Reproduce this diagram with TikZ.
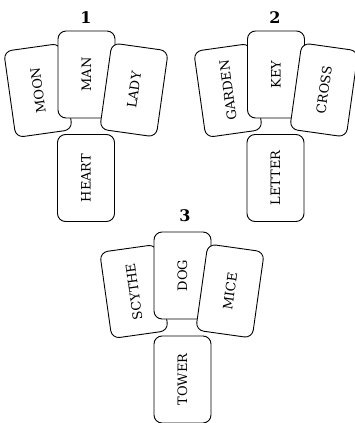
\documentclass[tikz,border=0pt]{standalone}
\usepackage{fontspec}
\setmainfont{DejaVu Serif}
\begin{document}
\begin{tikzpicture}[x=1pt,y=1pt,
  card/.style={draw=black, line width=0.9pt, fill=white, rounded corners=8pt,
    minimum width=87pt, minimum height=57pt, inner sep=0pt,
    font=\fontsize{13}{15}\selectfont},
  grouplabel/.style={font=\fontsize{16}{18}\selectfont\bfseries, inner sep=0pt}]
\useasboundingbox (0,0) rectangle (355,-423);
% group 1
\node[grouplabel] (l1) at (86,-17.5) {1};
\node[card, rotate=98] (moon) at (38,-90.5) {MOON};
\node[card, rotate=90] (man) at (86.5,-74.5) {MAN};
\node[card, rotate=82] (lady) at (134,-90) {LADY};
\node[card, rotate=90] (heart) at (86,-178) {HEART};
% group 2
\node[grouplabel] (l2) at (275,-17.5) {2};
\node[card, rotate=98] (garden) at (228,-90.5) {GARDEN};
\node[card, rotate=90] (key) at (276,-74.5) {KEY};
\node[card, rotate=82] (cross) at (324,-90) {CROSS};
\node[card, rotate=90] (letter) at (275.5,-178) {LETTER};
% group 3
\node[grouplabel] (l3) at (185,-216) {3};
\node[card, rotate=98] (scythe) at (134,-291.5) {SCYTHE};
\node[card, rotate=90] (dog) at (182.5,-275.5) {DOG};
\node[card, rotate=82] (mice) at (230,-291) {MICE};
\node[card, rotate=90] (tower) at (182.5,-379.5) {TOWER};
\end{tikzpicture}
\end{document}
